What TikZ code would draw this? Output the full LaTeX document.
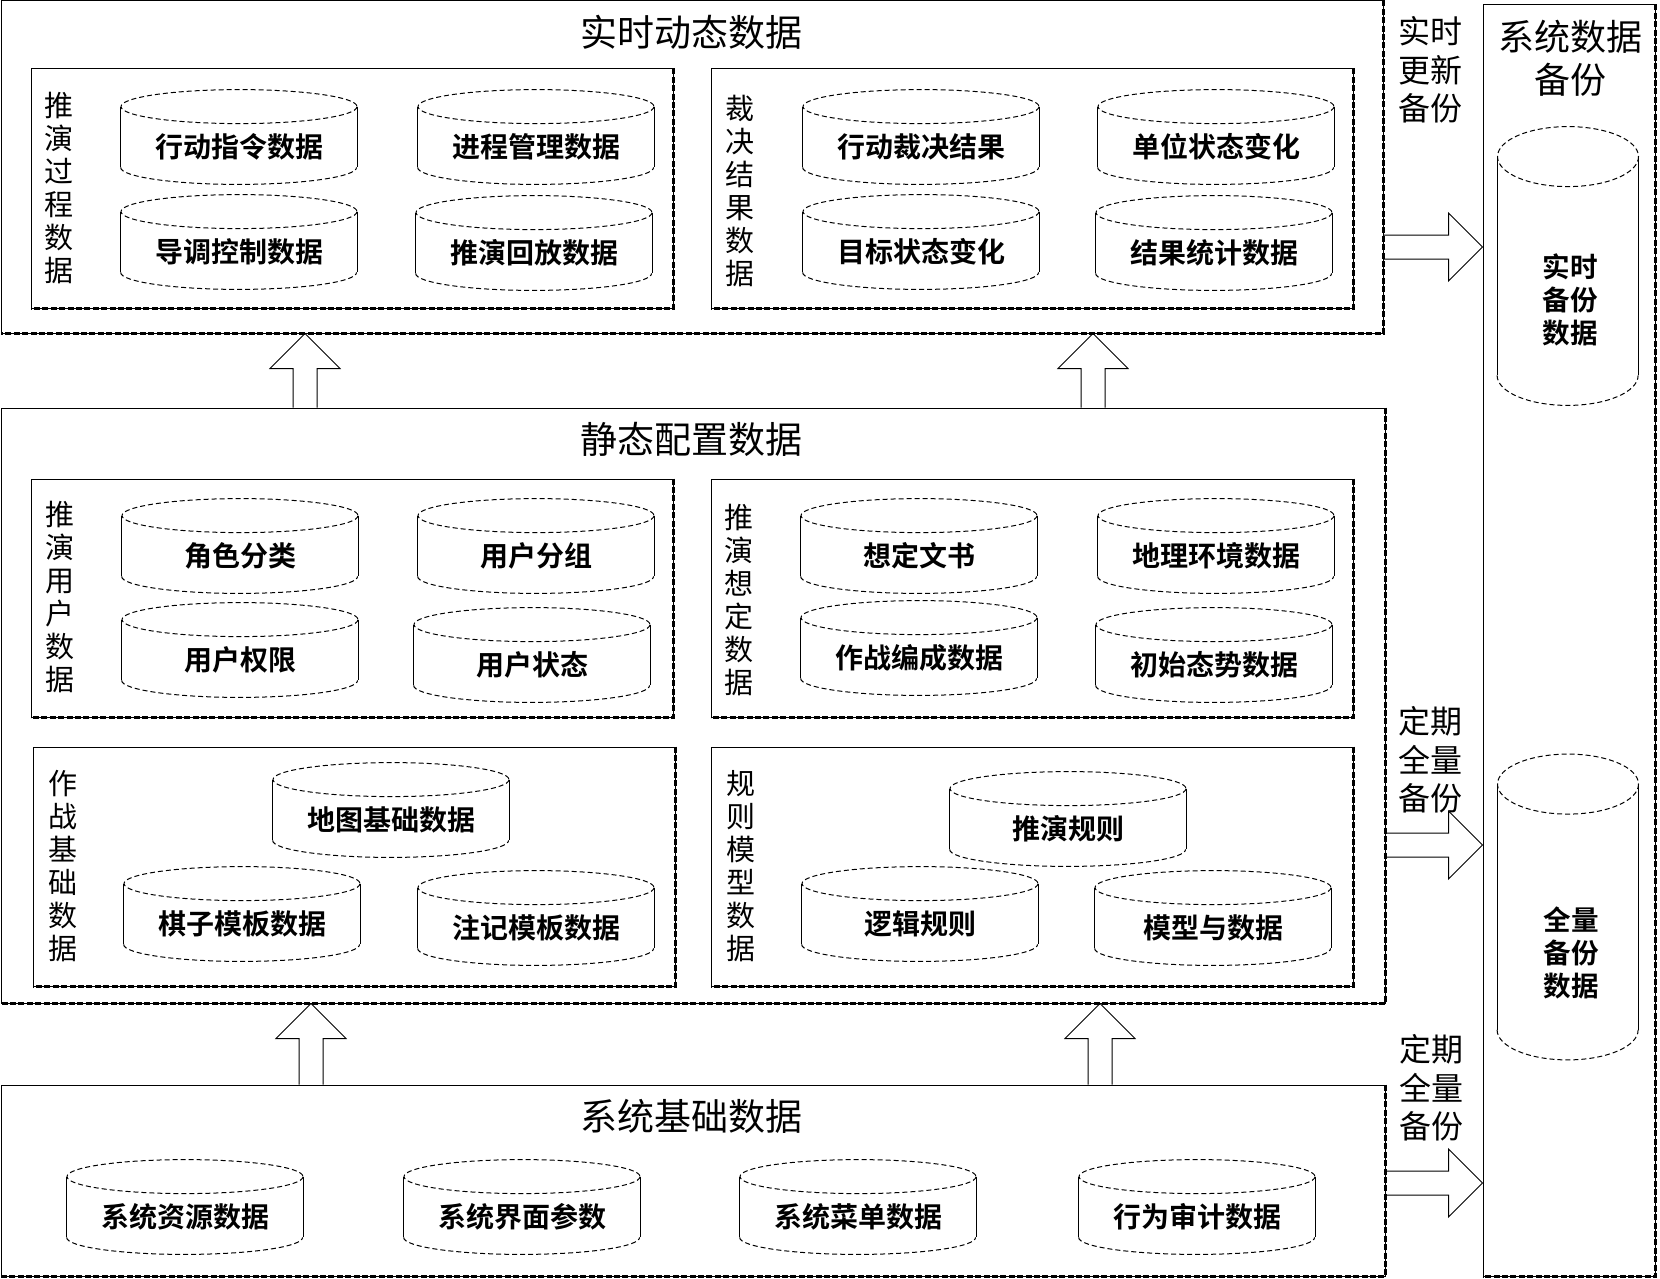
\documentclass[tikz,border=0pt]{standalone}
\usepackage{fontspec}
\setmainfont{Noto Sans CJK SC}[BoldFont={Noto Sans CJK SC Bold}]
\usetikzlibrary{calc, fit}

% block arrows between two boxes
\newcommand{\blkup}[2]{%
  \draw[blk] ($(#1)+(-12,0)$) -- ($(#2)+(-12,35)$) -- ($(#2)+(-35,35)$) -- (#2)
    -- ($(#2)+(35,35)$) -- ($(#2)+(12,35)$) -- ($(#1)+(12,0)$);}
\newcommand{\blkright}[2]{%
  \draw[blk] ($(#1)+(0,-12)$) -- ($(#2)+(-34,-12)$) -- ($(#2)+(-34,-34)$) -- (#2)
    -- ($(#2)+(-34,34)$) -- ($(#2)+(-34,12)$) -- ($(#1)+(0,12)$);}
% database drum round a node: node, x radius, y radius
\newcommand{\dbdraw}[3]{%
  \draw[dbdash] ($(#1.north)+(0,#3)$) ellipse[x radius=#2, y radius=#3];
  \draw[dbwall] ($(#1.north west)+(0,#3)$) -- ($(#1.south west)+(0,-#3)$)
                ($(#1.north east)+(0,#3)$) -- ($(#1.south east)+(0,-#3)$);
  \draw[dbdash] ($(#1.south west)+(0,-#3)$) arc[start angle=180, end angle=0, x radius=#2, y radius=#3];}

\begin{document}
\begin{tikzpicture}[x=0.5pt, y=-0.5pt,
  frame/.style={draw, line width=0.5pt, inner sep=0pt},
  edge/.style={line width=1.1pt, dash pattern=on 3pt off 1.2pt},
  ttl/.style={font=\fontsize{18.5}{22}\selectfont, inner sep=0pt},
  vlab/.style={align=center, inner sep=0pt, font=\fontsize{14.5}{16.5}\selectfont},
  side/.style={align=center, inner sep=0pt, font=\fontsize{16}{19.2}\selectfont},
  db/.style={minimum width=118pt, minimum height=47pt, inner sep=0pt,
             text height=20.5pt, text depth=0pt,
             font=\bfseries\fontsize{14}{16}\selectfont},
  bakdb/.style={minimum width=70.5pt, inner sep=0pt},
  baktxt/.style={align=center, inner sep=0pt, font=\bfseries\fontsize{13.8}{16.5}\selectfont},
  dbdash/.style={line width=0.5pt, dash pattern=on 2.5pt off 1.5pt},
  dbwall/.style={line width=0.5pt},
  blk/.style={line width=0.5pt}
]
\useasboundingbox (0,0) rectangle (1660,1279);

% outer boxes
\node[frame, fit={(1,1) (1383,333)}]      (dyn) {};
\node[frame, fit={(1,408) (1385,1003)}]   (sta) {};
\node[frame, fit={(1,1085) (1385,1276)}]  (sys) {};
\node[frame, fit={(1483,5) (1655,1276)}]  (bak) {};

% inner boxes
\node[frame, fit={(31,69) (673,308)}]     (pro) {};
\node[frame, fit={(711,69) (1353,308)}]   (adj) {};
\node[frame, fit={(31,479) (673,717)}]    (usr) {};
\node[frame, fit={(711,479) (1353,717)}]  (scn) {};
\node[frame, fit={(33,747) (675,986)}]    (bas) {};
\node[frame, fit={(711,747) (1353,986)}]  (rul) {};

\foreach \n in {dyn,sta,sys,bak,pro,adj,usr,scn,bas,rul}
  \draw[edge] (\n.north east) -- (\n.south east) -- (\n.south west);

% titles
\node[ttl] (dynT) at (691,32)   {实时动态数据};
\node[ttl] (staT) at (691,439)  {静态配置数据};
\node[ttl] (sysT) at (691,1116) {系统基础数据};
\node[ttl, align=center, font=\fontsize{18}{21.5}\selectfont] (bakT) at (1570,58) {系统数据\\备份};

% vertical labels
\node[vlab] (proL) at (59,188)  {推\\演\\过\\程\\数\\据};
\node[vlab] (adjL) at (740,191) {裁\\决\\结\\果\\数\\据};
\node[vlab] (usrL) at (60,597)  {推\\演\\用\\户\\数\\据};
\node[vlab] (scnL) at (739,600) {推\\演\\想\\定\\数\\据};
\node[vlab] (basL) at (63,866)  {作\\战\\基\\础\\数\\据};
\node[vlab] (rulL) at (741,866) {规\\则\\模\\型\\数\\据};

% databases
\node[db] (pro1) at (239,137)  {行动指令数据};
\node[db] (pro2) at (536,137)  {进程管理数据};
\node[db] (pro3) at (239,242)  {导调控制数据};
\node[db] (pro4) at (534,243)  {推演回放数据};
\node[db] (adj1) at (921,137)  {行动裁决结果};
\node[db] (adj2) at (1216,137) {单位状态变化};
\node[db] (adj3) at (921,242)  {目标状态变化};
\node[db] (adj4) at (1214,243) {结果统计数据};
\node[db] (usr1) at (240,546)  {角色分类};
\node[db] (usr2) at (536,546)  {用户分组};
\node[db] (usr3) at (240,650)  {用户权限};
\node[db] (usr4) at (532,655)  {用户状态};
\node[db] (scn1) at (919,546)  {想定文书};
\node[db] (scn2) at (1216,546) {地理环境数据};
\node[db] (scn3) at (919,648)  {作战编成数据};
\node[db] (scn4) at (1214,655) {初始态势数据};
\node[db] (bas1) at (391,810)  {地图基础数据};
\node[db] (bas2) at (242,914)  {棋子模板数据};
\node[db] (bas3) at (536,918)  {注记模板数据};
\node[db] (rul1) at (1068,819) {推演规则};
\node[db] (rul2) at (920,914)  {逻辑规则};
\node[db] (rul3) at (1213,918) {模型与数据};
\node[db] (sys1) at (185,1207) {系统资源数据};
\node[db] (sys2) at (522,1207) {系统界面参数};
\node[db] (sys3) at (858,1207) {系统菜单数据};
\node[db] (sys4) at (1197,1207) {行为审计数据};
\foreach \n in {pro1,pro2,pro3,pro4,adj1,adj2,adj3,adj4,usr1,usr2,usr3,usr4,
                scn1,scn2,scn3,scn4,bas1,bas2,bas3,rul1,rul2,rul3,sys1,sys2,sys3,sys4}
  {\dbdraw{\n}{118}{17}}

\node[bakdb, minimum height=139pt]   (bak1) at (1568,266) {};
\node[bakdb, minimum height=152.5pt] (bak2) at (1568,907) {};
\dbdraw{bak1}{70.5}{30}
\dbdraw{bak2}{70.5}{30}
\node[baktxt] (bak1T) at (1570,300) {实时\\备份\\数据};
\node[baktxt] (bak2T) at (1571,953) {全量\\备份\\数据};

% arrows
\coordinate (u1s) at (305,0 |- sta.north);  \coordinate (u1e) at (305,0 |- dyn.south);
\coordinate (u2s) at (1093,0 |- sta.north); \coordinate (u2e) at (1093,0 |- dyn.south);
\coordinate (u3s) at (311,0 |- sys.north);  \coordinate (u3e) at (311,0 |- sta.south);
\coordinate (u4s) at (1100,0 |- sys.north); \coordinate (u4e) at (1100,0 |- sta.south);
\blkup{u1s}{u1e}
\blkup{u2s}{u2e}
\blkup{u3s}{u3e}
\blkup{u4s}{u4e}
\coordinate (r1s) at (dyn.east |- 0,247);  \coordinate (r1e) at (bak.west |- 0,247);
\coordinate (r2s) at (sta.east |- 0,845);  \coordinate (r2e) at (bak.west |- 0,845);
\coordinate (r3s) at (sys.east |- 0,1183); \coordinate (r3e) at (bak.west |- 0,1183);
\blkright{r1s}{r1e}
\blkright{r2s}{r2e}
\blkright{r3s}{r3e}

% arrow labels
\node[side] (r1L) at (1430,70)   {实时\\更新\\备份};
\node[side] (r2L) at (1430,760)  {定期\\全量\\备份};
\node[side] (r3L) at (1431,1088) {定期\\全量\\备份};
\end{tikzpicture}
\end{document}
